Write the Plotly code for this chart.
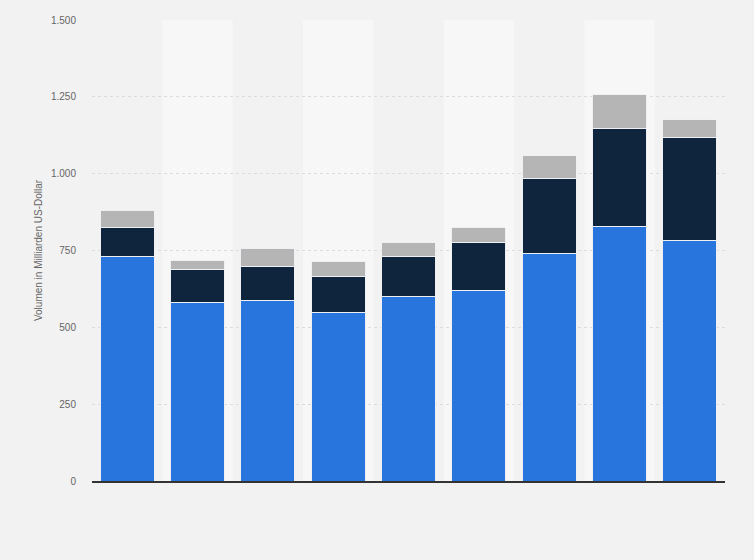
import plotly.graph_objects as go

# data (Mrd. US-Dollar), 9 periods, no visible labels
categories = ["1", "2", "3", "4", "5", "6", "7", "8", "9"]
blue_vals = [732, 580, 587, 549, 601, 621, 740, 828, 781]
navy_vals = [94, 107, 110, 116, 128, 156, 243, 319, 336]
grey_vals = [53, 32, 58, 50, 48, 49, 77, 109, 58]
y_ticks = [0, 250, 500, 750, 1000, 1250, 1500]

fig = go.Figure()

for vals, color in [(blue_vals, "#2876dd"),
                    (navy_vals, "#0f253e"),
                    (grey_vals, "#b5b5b5")]:
    fig.add_trace(go.Bar(x=categories,
                         y=vals,
                         marker_color=color,
                         marker_line_color="#eef0f3",
                         marker_line_width=1,
                         hovertemplate="%{y} Mrd. US-Dollar<extra></extra>"))

# lighter background bands behind every second bar
for i in range(1, len(categories), 2):
    fig.add_shape(type="rect", xref="x", yref="paper",
                  x0=i - 0.5, x1=i + 0.5, y0=0, y1=1,
                  fillcolor="#f7f7f7", line_width=0, layer="below")

fig.update_layout(width=754,
                  height=560,
                  barmode="stack",
                  bargap=0.23,
                  showlegend=False,
                  separators=",.",
                  paper_bgcolor="#f2f2f2",
                  plot_bgcolor="#f2f2f2",
                  margin=dict(l=92, r=29, t=20, b=79),
                  font=dict(family="Liberation Sans, Arial, sans-serif",
                            size=10, color="#666666"))

fig.update_xaxes(showticklabels=False,
                 showgrid=False,
                 showline=True,
                 linecolor="#333333",
                 linewidth=1.5,
                 ticks="")

fig.update_yaxes(range=[0, 1500],
                 tickvals=y_ticks,
                 tickformat=",d",
                 showgrid=True,
                 gridcolor="#dcdcdc",
                 griddash="dot",
                 gridwidth=1,
                 zeroline=False,
                 ticks="",
                 ticklabelstandoff=15,
                 title=dict(text="Volumen in Milliarden US-Dollar",
                            font=dict(size=10, color="#666666"),
                            standoff=6))

# drop the default page margin so the chart sits at the window corner
fig.write_html("out.html",
               config={"displayModeBar": False},
               post_script="document.body.style.margin='0';")
